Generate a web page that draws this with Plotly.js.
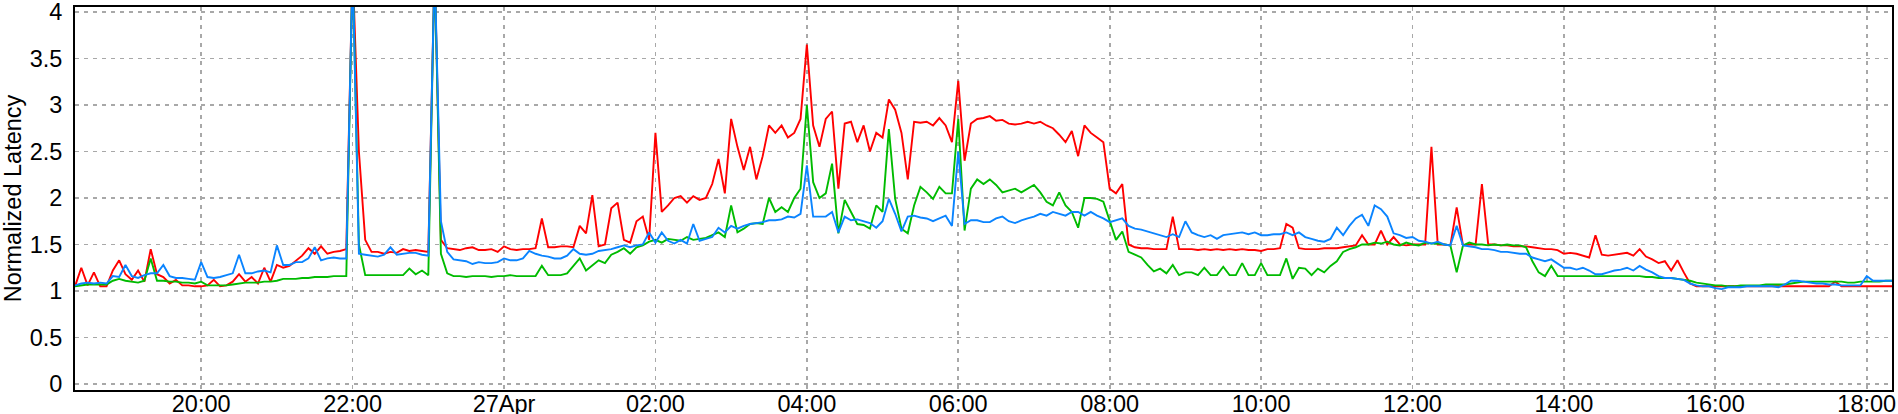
<!DOCTYPE html>
<html>
<head>
<meta charset="utf-8">
<script src="https://cdn.plot.ly/plotly-3.0.1.min.js"></script>
<style>html,body{margin:0;padding:0;background:#fff;}#chart{width:1898px;height:414px;}</style>
</head>
<body>
<div id="chart"></div>
<script>
// Sampling: one value every 5 minutes from 26 Apr 18:20 to 27 Apr 18:20
const startTime = Date.UTC(2014, 3, 26, 18, 20);
const stepMinutes = 5;

const redSeries = [
  1.05,1.25,1.06,1.2,1.05,1.05,1.22,1.33,1.18,1.12,1.22,1.1,
  1.45,1.18,1.15,1.08,1.12,1.06,1.06,1.05,1.05,1.06,1.12,1.05,
  1.06,1.1,1.18,1.1,1.15,1.08,1.25,1.1,1.28,1.25,1.27,1.32,
  1.38,1.46,1.4,1.48,1.4,1.42,1.43,1.45,4.5,2.5,1.55,1.42,
  1.42,1.4,1.42,1.41,1.45,1.43,1.44,1.43,1.42,4.5,1.55,1.46,
  1.45,1.44,1.46,1.47,1.44,1.44,1.45,1.42,1.48,1.45,1.44,1.45,
  1.45,1.46,1.78,1.47,1.47,1.48,1.48,1.47,1.7,1.62,2.03,1.48,
  1.5,1.89,1.95,1.55,1.52,1.75,1.8,1.55,2.7,1.85,1.92,2.0,
  2.02,1.95,2.02,1.98,2.0,2.15,2.42,2.05,2.85,2.55,2.3,2.55,
  2.2,2.45,2.78,2.7,2.78,2.65,2.7,2.85,3.65,2.78,2.55,2.85,
  2.93,2.1,2.8,2.82,2.6,2.78,2.5,2.7,2.65,3.06,2.95,2.7,
  2.2,2.82,2.81,2.82,2.78,2.86,2.78,2.6,3.26,2.4,2.8,2.85,
  2.86,2.88,2.83,2.84,2.8,2.79,2.8,2.82,2.8,2.82,2.78,2.75,
  2.68,2.6,2.72,2.45,2.78,2.7,2.65,2.6,2.1,2.05,2.15,1.5,
  1.47,1.46,1.46,1.45,1.45,1.45,1.8,1.45,1.45,1.45,1.44,1.45,
  1.44,1.45,1.44,1.45,1.44,1.45,1.44,1.44,1.43,1.45,1.45,1.46,
  1.72,1.68,1.46,1.45,1.45,1.45,1.46,1.46,1.46,1.47,1.48,1.49,
  1.6,1.5,1.5,1.65,1.5,1.58,1.5,1.49,1.5,1.5,1.5,2.55,
  1.5,1.5,1.49,1.9,1.49,1.5,1.5,2.15,1.5,1.5,1.49,1.49,
  1.48,1.48,1.48,1.47,1.46,1.45,1.45,1.44,1.4,1.41,1.4,1.38,
  1.36,1.6,1.39,1.38,1.39,1.4,1.41,1.38,1.45,1.37,1.34,1.3,
  1.32,1.22,1.33,1.2,1.08,1.05,1.05,1.05,1.05,1.05,1.05,1.05,
  1.05,1.05,1.05,1.05,1.05,1.05,1.05,1.05,1.05,1.05,1.05,1.05,
  1.05,1.05,1.05,1.1,1.05,1.05,1.05,1.05,1.05,1.05,1.05,1.05,
  1.05
];

const greenSeries = [
  1.05,1.06,1.07,1.07,1.07,1.07,1.11,1.13,1.11,1.1,1.09,1.11,
  1.35,1.11,1.11,1.1,1.1,1.09,1.09,1.08,1.1,1.06,1.06,1.06,
  1.06,1.07,1.08,1.09,1.09,1.09,1.1,1.1,1.11,1.13,1.13,1.13,
  1.14,1.14,1.15,1.15,1.15,1.16,1.16,1.16,4.5,1.5,1.17,1.17,
  1.17,1.17,1.17,1.17,1.17,1.24,1.18,1.22,1.17,4.5,1.4,1.19,
  1.16,1.16,1.15,1.16,1.16,1.16,1.15,1.16,1.16,1.17,1.16,1.16,
  1.16,1.16,1.27,1.17,1.17,1.17,1.19,1.27,1.35,1.22,1.28,1.33,
  1.3,1.39,1.42,1.46,1.4,1.47,1.49,1.53,1.55,1.52,1.56,1.55,
  1.54,1.58,1.55,1.56,1.57,1.6,1.63,1.58,1.92,1.63,1.67,1.72,
  1.73,1.72,2.0,1.85,1.9,1.85,2.0,2.1,3.0,2.17,2.0,2.05,
  2.37,1.62,1.98,1.85,1.72,1.71,1.67,1.92,1.85,2.74,1.99,1.67,
  1.62,1.92,2.12,2.06,1.99,2.12,2.05,2.05,2.85,1.65,2.1,2.2,
  2.15,2.2,2.14,2.06,2.08,2.1,2.06,2.1,2.14,2.06,1.96,1.92,
  2.06,1.92,1.85,1.68,2.0,2.0,1.99,1.96,1.75,1.55,1.64,1.42,
  1.39,1.36,1.28,1.21,1.24,1.19,1.28,1.17,1.2,1.2,1.17,1.25,
  1.17,1.17,1.26,1.17,1.17,1.3,1.17,1.17,1.3,1.17,1.17,1.17,
  1.35,1.13,1.25,1.24,1.17,1.24,1.2,1.27,1.32,1.42,1.45,1.47,
  1.5,1.5,1.52,1.51,1.53,1.5,1.49,1.52,1.5,1.49,1.52,1.51,
  1.51,1.5,1.49,1.2,1.49,1.52,1.5,1.5,1.49,1.5,1.49,1.5,
  1.49,1.49,1.47,1.32,1.2,1.16,1.27,1.16,1.16,1.16,1.16,1.16,
  1.16,1.16,1.16,1.16,1.16,1.16,1.16,1.16,1.16,1.15,1.15,1.14,
  1.14,1.14,1.13,1.12,1.11,1.09,1.08,1.07,1.06,1.06,1.05,1.05,
  1.06,1.06,1.06,1.06,1.07,1.07,1.07,1.07,1.08,1.09,1.1,1.1,
  1.1,1.1,1.1,1.1,1.1,1.09,1.09,1.1,1.1,1.1,1.1,1.11,
  1.11
];

const blueSeries = [
  1.06,1.08,1.09,1.08,1.09,1.08,1.16,1.15,1.28,1.16,1.14,1.17,
  1.19,1.19,1.28,1.16,1.14,1.14,1.13,1.12,1.31,1.15,1.14,1.15,
  1.17,1.19,1.39,1.19,1.19,1.21,1.22,1.2,1.49,1.28,1.28,1.31,
  1.31,1.35,1.47,1.33,1.35,1.36,1.35,1.35,4.5,1.4,1.39,1.38,
  1.37,1.39,1.47,1.39,1.4,1.41,1.41,1.39,1.38,4.5,1.75,1.42,
  1.34,1.33,1.32,1.29,1.31,1.3,1.3,1.31,1.35,1.33,1.33,1.35,
  1.43,1.4,1.38,1.37,1.35,1.35,1.38,1.45,1.4,1.39,1.4,1.43,
  1.44,1.45,1.47,1.49,1.47,1.49,1.5,1.63,1.52,1.63,1.54,1.51,
  1.55,1.51,1.72,1.54,1.56,1.58,1.68,1.63,1.7,1.67,1.7,1.72,
  1.73,1.74,1.76,1.76,1.77,1.8,1.79,1.83,2.35,1.8,1.8,1.8,
  1.85,1.63,1.8,1.76,1.77,1.75,1.73,1.68,1.75,1.99,1.83,1.64,
  1.8,1.81,1.79,1.78,1.75,1.78,1.81,1.7,2.5,1.72,1.76,1.76,
  1.74,1.74,1.78,1.8,1.75,1.73,1.76,1.78,1.8,1.83,1.81,1.85,
  1.83,1.81,1.85,1.85,1.81,1.85,1.81,1.78,1.74,1.76,1.78,1.7,
  1.67,1.66,1.64,1.62,1.6,1.58,1.61,1.58,1.75,1.63,1.6,1.58,
  1.6,1.56,1.6,1.61,1.62,1.63,1.61,1.63,1.6,1.6,1.61,1.61,
  1.63,1.6,1.63,1.58,1.56,1.54,1.53,1.56,1.68,1.6,1.7,1.78,
  1.82,1.7,1.92,1.88,1.8,1.62,1.6,1.57,1.58,1.54,1.53,1.51,
  1.53,1.5,1.49,1.7,1.49,1.48,1.47,1.45,1.45,1.44,1.42,1.42,
  1.41,1.4,1.4,1.36,1.34,1.32,1.34,1.29,1.25,1.25,1.23,1.25,
  1.22,1.18,1.18,1.2,1.22,1.23,1.25,1.22,1.27,1.23,1.2,1.16,
  1.14,1.14,1.13,1.12,1.08,1.06,1.05,1.05,1.03,1.02,1.04,1.04,
  1.04,1.05,1.05,1.05,1.05,1.05,1.04,1.07,1.11,1.11,1.1,1.09,
  1.08,1.08,1.07,1.07,1.06,1.06,1.06,1.06,1.16,1.11,1.11,1.11,
  1.11
];

const xTickVals = [
  '2014-04-26 20:00','2014-04-26 22:00','2014-04-27 00:00','2014-04-27 02:00',
  '2014-04-27 04:00','2014-04-27 06:00','2014-04-27 08:00','2014-04-27 10:00',
  '2014-04-27 12:00','2014-04-27 14:00','2014-04-27 16:00','2014-04-27 18:00'
];
const xTickText = ['20:00','22:00','27Apr','02:00','04:00','06:00','08:00','10:00','12:00','14:00','16:00','18:00'];
const yTickVals = [0,0.5,1,1.5,2,2.5,3,3.5,4];
const yTickText = ['0','0.5','1','1.5','2','2.5','3','3.5','4'];
const yTitle = 'Normalized Latency';

function timesFor(arr) {
  return arr.map((_, i) => startTime + i * stepMinutes * 60000);
}

const lineW = 1.9;
const traces = [
  {x: timesFor(redSeries), y: redSeries, type: 'scatter', mode: 'lines', line: {color: '#ff0000', width: lineW}, hoverinfo: 'skip'},
  {x: timesFor(greenSeries), y: greenSeries, type: 'scatter', mode: 'lines', line: {color: '#00bb00', width: lineW}, hoverinfo: 'skip'},
  {x: timesFor(blueSeries), y: blueSeries, type: 'scatter', mode: 'lines', line: {color: '#0a84ff', width: lineW}, hoverinfo: 'skip'}
];

const fontFam = '"Liberation Sans", Arial, Helvetica, sans-serif';
const fs = 23.5;
const layout = {
  width: 1898, height: 414,
  margin: {l: 75, r: 6, t: 7, b: 24, pad: 0},
  paper_bgcolor: '#ffffff', plot_bgcolor: '#ffffff',
  showlegend: false,
  font: {family: fontFam, size: fs, color: '#000'},
  xaxis: {
    type: 'date',
    range: ['2014-04-26 18:20', '2014-04-27 18:20'],
    tickmode: 'array', tickvals: xTickVals, ticktext: xTickText,
    ticks: '', ticklabelstandoff: -8, ticklabeloverflow: 'allow',
    showgrid: true, gridcolor: '#a8a8a8', gridwidth: 1.7, griddash: '4px,5px',
    showline: true, linecolor: '#000', linewidth: 2, mirror: true, zeroline: false,
    tickfont: {family: fontFam, size: fs, color: '#000'},
    automargin: false, fixedrange: true
  },
  yaxis: {
    range: [-0.065, 4.054],
    tickmode: 'array', tickvals: yTickVals, ticktext: yTickText,
    ticks: '', ticklabelstandoff: 6, ticklabeloverflow: 'allow',
    showgrid: true, gridcolor: '#a8a8a8', gridwidth: 1.7, griddash: '4px,5px',
    showline: true, linecolor: '#000', linewidth: 2, mirror: true, zeroline: false,
    tickfont: {family: fontFam, size: fs, color: '#000'},
    title: {text: yTitle, font: {family: fontFam, size: fs, color: '#000'}, standoff: 4},
    automargin: false, fixedrange: true
  }
};

Plotly.newPlot('chart', traces, layout, {staticPlot: true, displayModeBar: false});
</script>
</body>
</html>
